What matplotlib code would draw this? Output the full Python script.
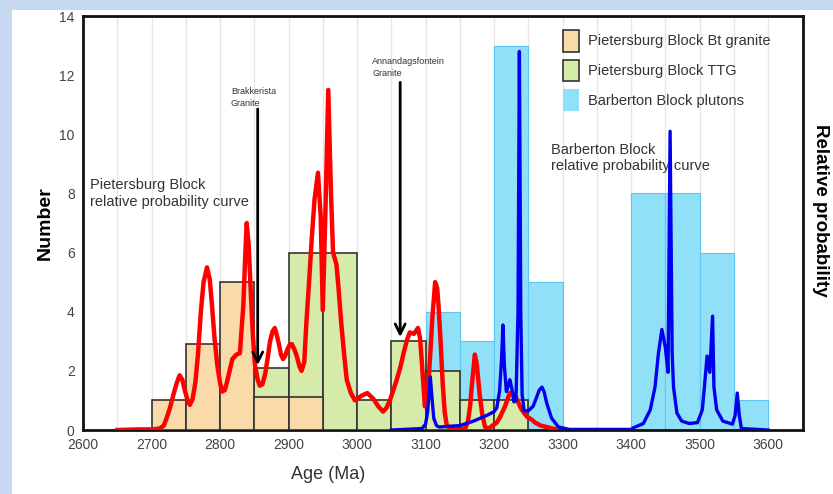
import numpy as np
import matplotlib.pyplot as plt
from matplotlib.patches import Patch, Rectangle

plt.rcParams['font.family'] = ['Liberation Sans', 'DejaVu Sans']

# histogram bins (left edges, 50 Ma wide)
bt_left = [2700, 2750, 2800, 2850, 2900]
bt_count = [1, 2.9, 5, 1.1, 1.1]
ttg_left = [2850, 2900, 2950, 3000, 3050, 3100, 3150, 3200]
ttg_count = [2.1, 6, 6, 1, 3, 2, 1, 1]
barb_left = [3100, 3150, 3200, 3250, 3400, 3450, 3500, 3550]
barb_count = [4, 3, 13, 5, 8, 8, 6, 1]

pb_age = [2650, 2680, 2700, 2712, 2718, 2722, 2727, 2732, 2737, 2741, 2745, 2748,
          2752, 2756, 2760, 2764, 2768, 2772, 2776, 2781, 2785, 2788, 2792, 2796,
          2800, 2803, 2807, 2810, 2814, 2818, 2824, 2829, 2834, 2837, 2839, 2842,
          2845, 2848, 2851, 2855, 2858, 2862, 2866, 2870, 2873, 2877, 2880, 2883,
          2886, 2889, 2892, 2895, 2898, 2902, 2905, 2909, 2912, 2916, 2919, 2923,
          2926, 2930, 2934, 2938, 2943, 2947, 2950, 2954, 2958, 2962, 2965, 2970,
          2973, 2977, 2981, 2985, 2991, 2997, 3006, 3015, 3024, 3031, 3038, 3043,
          3048, 3053, 3058, 3063, 3068, 3073, 3077, 3083, 3089, 3092, 3094, 3097,
          3099, 3102, 3104, 3107, 3110, 3114, 3117, 3119, 3122, 3125, 3128, 3131,
          3136, 3145, 3158, 3162, 3165, 3168, 3172, 3175, 3179, 3183, 3187, 3192,
          3198, 3204, 3209, 3216, 3223, 3230, 3236, 3240, 3248, 3255, 3260, 3268,
          3277, 3290]
pb_prob = [0, 0.02, 0.02, 0.05, 0.15, 0.4, 0.75, 1.2, 1.6, 1.85, 1.7, 1.4,
           1.05, 0.85, 1.05, 1.6, 2.6, 4.0, 5.0, 5.5, 5.1, 4.3, 3.1, 2.2,
           1.6, 1.3, 1.35, 1.6, 2.0, 2.4, 2.55, 2.6, 4.2, 6.0, 7.0, 6.2,
           4.6, 3.2, 2.2, 1.7, 1.5, 1.55, 1.9, 2.5, 3.0, 3.35, 3.45, 3.2,
           2.9, 2.55, 2.4, 2.5, 2.7, 2.9, 2.9, 2.7, 2.5, 2.15, 2.0, 2.3,
           3.6, 5.0, 6.5, 7.8, 8.7, 7.2, 4.05, 7.5, 11.5, 8.0, 6.0, 5.6,
           4.8, 3.6, 2.6, 1.7, 1.25, 1.0, 1.15, 1.25, 1.05, 0.8, 0.62, 0.75,
           1.0, 1.35, 1.7, 2.1, 2.6, 3.05, 3.3, 3.25, 3.45, 3.1, 2.5, 1.5,
           0.8, 0.9, 1.5, 2.6, 3.8, 5.0, 4.8, 4.2, 3.0, 1.6, 0.6, 0.15,
           0.05, 0.03, 0.05, 0.3, 0.8, 1.6, 2.55, 2.2, 1.2, 0.5, 0.1, 0.05,
           0.15, 0.25, 0.45, 0.8, 1.25, 1.2, 0.9, 0.7, 0.45, 0.35, 0.25, 0.15,
           0.1, 0.02]

# Barberton relative probability curve
bb_age = [3050, 3095, 3100, 3103, 3105, 3107, 3109, 3112, 3116, 3120, 3150, 3170,
          3190, 3200, 3204, 3208, 3211, 3213, 3215, 3218, 3221, 3223, 3226, 3229,
          3232, 3235, 3237, 3239, 3241, 3244, 3250, 3257, 3262, 3266, 3270, 3273,
          3277, 3284, 3294, 3310, 3400, 3403, 3418, 3428, 3435, 3440, 3445, 3450,
          3454, 3457, 3460, 3462, 3467, 3474, 3485, 3497, 3504, 3508, 3511, 3515,
          3519, 3521, 3525, 3534, 3548, 3552, 3555, 3558, 3561, 3600]
bb_prob = [0, 0.05, 0.2, 0.6, 1.2, 1.8, 1.2, 0.4, 0.15, 0.1, 0.15, 0.3,
           0.5, 0.62, 0.75, 1.3, 2.4, 3.55, 2.2, 1.3, 1.5, 1.7, 1.4, 0.95,
           1.0, 4.0, 12.8, 4.0, 1.2, 0.65, 0.65, 0.8, 1.1, 1.35, 1.45, 1.3,
           0.9, 0.4, 0.1, 0.02, 0.02, 0.07, 0.22, 0.68, 1.45, 2.6, 3.4, 2.8,
           1.95, 10.1, 2.6, 1.45, 0.57, 0.3, 0.22, 0.25, 0.68, 1.7, 2.5, 1.95,
           3.85, 1.45, 0.68, 0.3, 0.2, 0.5, 1.25, 0.5, 0.05, 0.0]

fig = plt.figure(figsize=(8.33, 4.94), dpi=100, facecolor='#c6d9f0')
fig.patches.append(Rectangle((12/833, 0), 1, 1 - 10/494, transform=fig.transFigure,
                             facecolor='white', edgecolor='none', zorder=-5))
ax = fig.add_axes([83/833, 1 - 430/494, 720/833, 414/494])
ax.set_facecolor('white')

ax.bar(barb_left, barb_count, width=50, align='edge', color='#90e0f8',
       edgecolor='#5ec6f0', linewidth=0.8, zorder=2)
ax.bar(ttg_left, ttg_count, width=50, align='edge', color='#d6eaa9',
       edgecolor='#333333', linewidth=1.2, zorder=3)
ax.bar(bt_left, bt_count, width=50, align='edge', color='#f8dba9',
       edgecolor='#333333', linewidth=1.2, zorder=4)

ax.plot(pb_age, pb_prob, color='#ff0000', linewidth=3.2, zorder=6,
        solid_joinstyle='round')
ax.plot(bb_age, bb_prob, color='#0000ee', linewidth=2.4, zorder=7,
        solid_joinstyle='round')

# arrows marking granites
ax.annotate('', xy=(2855, 2.1), xytext=(2855, 10.95),
            arrowprops=dict(arrowstyle='->', color='black', lw=2,
                            mutation_scale=18), zorder=8)
ax.annotate('', xy=(3063, 3.05), xytext=(3063, 11.85),
            arrowprops=dict(arrowstyle='->', color='black', lw=2,
                            mutation_scale=18), zorder=8)
ax.text(2816, 11.6, 'Brakkerista\nGranite', fontsize=6.5, color='#333333',
        va='top', ha='left', linespacing=1.4)
ax.text(3022, 12.6, 'Annandagsfontein\nGranite', fontsize=6.5, color='#333333',
        va='top', ha='left', linespacing=1.4)

ax.text(2610, 8.0, 'Pietersburg Block\nrelative probability curve', fontsize=10.5,
        color='#333333', va='center', ha='left', linespacing=1.25)
ax.text(3283, 9.2, 'Barberton Block\nrelative probability curve', fontsize=10.5,
        color='#333333', va='center', ha='left', linespacing=1.25)

ax.set_xlim(2600, 3651)
ax.set_ylim(0, 14)
ax.set_xticks(np.arange(2600, 3601, 100))
ax.set_xticks(np.arange(2650, 3601, 50), minor=True)
ax.set_yticks(np.arange(0, 15, 2))
ax.tick_params(length=0, labelsize=10, labelcolor='#444444', pad=6)
ax.tick_params(which='minor', length=0)
ax.grid(axis='x', which='both', color='#e6e6e6', linewidth=1, zorder=0)
ax.set_axisbelow(True)
for s in ax.spines.values():
    s.set_linewidth(2)
    s.set_color('#111111')

ax.set_xlabel('Age (Ma)', fontsize=13, color='#333333')
ax.xaxis.set_label_coords((328 - 83) / 720, -0.087)
ax.set_ylabel('Number', fontsize=14, fontweight='bold')
ax.yaxis.set_label_coords(-0.04, 0.5)
fig.text(0.985, 0.575, 'Relative probability', rotation=-90, fontsize=13.5,
         fontweight='bold', ha='center', va='center')

handles = [Patch(facecolor='#f8dba9', edgecolor='#333333', linewidth=1.2),
           Patch(facecolor='#d6eaa9', edgecolor='#333333', linewidth=1.2),
           Patch(facecolor='#90e0f8', edgecolor='none')]
ax.legend(handles, ['Pietersburg Block Bt granite', 'Pietersburg Block TTG',
                    'Barberton Block plutons'],
          loc='upper left', bbox_to_anchor=(0.649, 0.998), frameon=False,
          fontsize=10.5, handlelength=1.1, handleheight=1.9, labelspacing=0.55,
          handletextpad=0.6, labelcolor='#333333')

fig.savefig('out.png', dpi=100, facecolor=fig.get_facecolor())
